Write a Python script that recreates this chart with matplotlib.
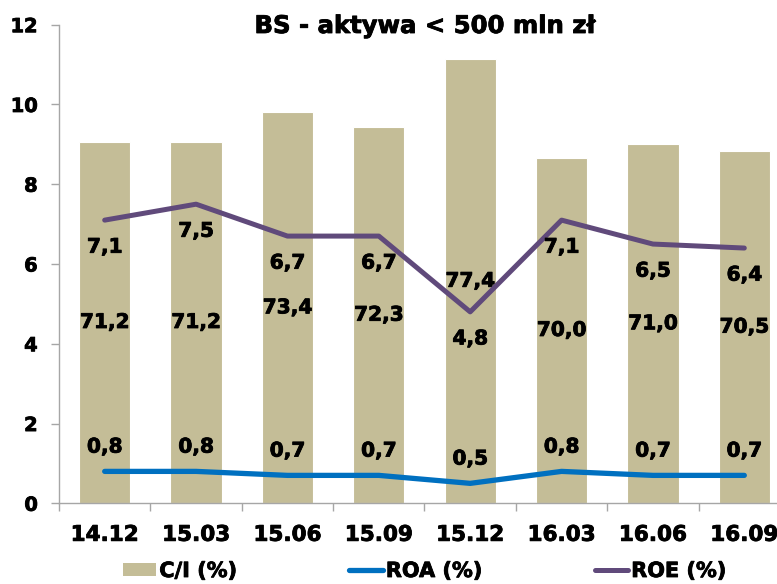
import matplotlib
matplotlib.use("Agg")
import matplotlib.pyplot as plt
import matplotlib.patheffects as pe
from matplotlib.lines import Line2D
from matplotlib.patches import Patch

plt.rcParams['font.family'] = ['DejaVu Sans']
plt.rcParams['font.weight'] = 'bold'

# Data
quarters = ["14.12", "15.03", "15.06", "15.09", "15.12", "16.03", "16.06", "16.09"]
ci = [71.2, 71.2, 73.4, 72.3, 77.4, 70.0, 71.0, 70.5]
roa = [0.8, 0.8, 0.7, 0.7, 0.5, 0.8, 0.7, 0.7]
roe = [7.1, 7.5, 6.7, 6.7, 4.8, 7.1, 6.5, 6.4]
title = "BS - aktywa < 500 mln zł"

BAR_C = "#C4BD97"
ROA_C = "#0070C0"
ROE_C = "#604A7B"
AX_C = "#A6A6A6"

# slightly heavier strokes for the bold labels
heavy = [pe.withStroke(linewidth=0.6, foreground="black")]

def fmt(v):
    return f"{v:.1f}".replace(".", ",")

W, H = 777, 584
fig = plt.figure(figsize=(W / 100, H / 100), dpi=100)
pos = [59 / W, (H - 503.3) / H, (790 - 59) / W, (503.3 - 24.7) / H]

x = list(range(len(quarters)))

# Secondary (hidden) scale for C/I bars
ci_base, ci_top = 44, 80
axb = fig.add_axes(pos)
bars = axb.bar(x, [v - ci_base for v in ci], bottom=ci_base, width=0.56,
               color=BAR_C, edgecolor="white", linewidth=0.8)
axb.set_ylim(ci_base, ci_top)
axb.set_xlim(-0.5, len(quarters) - 0.5)
axb.axis("off")
for t in axb.bar_label(bars, labels=[fmt(v) for v in ci], label_type="center",
                       fontsize=14.5, fontweight="bold", color="black"):
    t.set_path_effects(heavy)

# Primary scale for ROA / ROE
ax = fig.add_axes(pos)
ax.patch.set_alpha(0)
ax.plot(x, roa, color=ROA_C, lw=3.8, solid_capstyle="round", solid_joinstyle="round")
ax.plot(x, roe, color=ROE_C, lw=3.6, solid_capstyle="round", solid_joinstyle="round")
for xi, v in zip(x, roe):
    ax.annotate(fmt(v), (xi, v), xytext=(0, -19.5), textcoords="offset points",
                ha="center", va="center", fontsize=14.5, fontweight="bold",
                path_effects=heavy)
for xi, v in zip(x, roa):
    ax.annotate(fmt(v), (xi, v), xytext=(0, 17.5), textcoords="offset points",
                ha="center", va="center", fontsize=14.5, fontweight="bold",
                path_effects=heavy)

ax.set_ylim(0, 12)
ax.set_xlim(-0.5, len(quarters) - 0.5)
ax.set_yticks(range(0, 13, 2))
ax.set_xticks(x)
ax.set_xticklabels(quarters)
ax.set_xticks([i - 0.5 for i in range(len(quarters) + 1)], minor=True)
ax.tick_params(axis="x", which="major", length=0, pad=15.5, labelsize=15.5)
ax.tick_params(axis="x", which="minor", length=5.8, width=1, color=AX_C, direction="out")
ax.tick_params(axis="y", length=5.8, width=1, color=AX_C, pad=9.5, labelsize=14)
for lab in ax.get_xticklabels() + ax.get_yticklabels():
    lab.set_fontweight("bold")
    lab.set_path_effects(heavy)
for s in ["top", "right"]:
    ax.spines[s].set_visible(False)
for s in ["left", "bottom"]:
    ax.spines[s].set_color(AX_C)
    ax.spines[s].set_linewidth(1)

fig.text(424.5 / W, (H - 33) / H, title, ha="center", va="baseline",
         fontsize=17.5, fontweight="bold", path_effects=heavy)

handles = [Patch(facecolor=BAR_C, edgecolor="none"),
           Line2D([], [], color=ROA_C, lw=3.8, solid_capstyle="round"),
           Line2D([], [], color=ROE_C, lw=3.6, solid_capstyle="round")]
leg = fig.legend(handles, ["C/I (%)", "ROA (%)", "ROE (%)"], loc="center",
                 bbox_to_anchor=(424.5 / W, (H - 571) / H), ncol=3, frameon=False,
                 prop={"size": 15, "weight": "bold"}, handlelength=1.6,
                 handleheight=0.55, handletextpad=0.15, columnspacing=5.4,
                 borderaxespad=0, borderpad=0)
for t in leg.get_texts():
    t.set_path_effects(heavy)

fig.savefig("out.png", dpi=100)
